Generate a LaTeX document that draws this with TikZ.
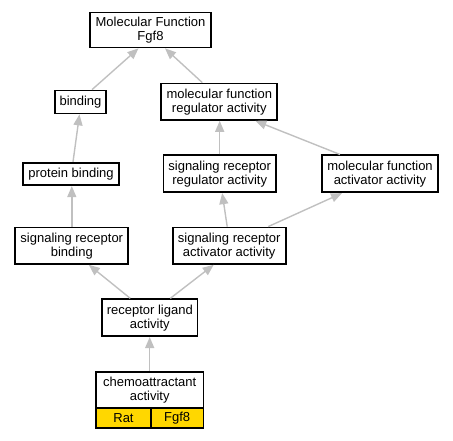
\documentclass[tikz,border=0pt]{standalone}
\usepackage{fontspec}
\setmainfont{Liberation Sans}
\usetikzlibrary{arrows.meta}
\definecolor{edgegray}{RGB}{192,192,192}
\definecolor{cellgold}{RGB}{255,215,0}
\begin{document}
\begin{tikzpicture}[x=1pt,y=-1pt,
  term/.style={draw=black, line width=1.7pt, fill=white, inner sep=0pt, align=center,
    font=\fontsize{13}{14}\selectfont},
  cell/.style={draw=black, line width=1.7pt, fill=cellgold, inner sep=0pt,
    font=\fontsize{13}{14}\selectfont, minimum height=20.5pt},
  isa/.style={draw=edgegray, line width=1.4pt, -{Triangle[length=11pt,width=9pt]}, edgegray}]
\useasboundingbox (0,0) rectangle (453,440);
\node[term, minimum width=120.5pt, minimum height=35pt] (mf) at (150.5,30) {Molecular Function\\Fgf8};
\node[term, minimum width=51pt, minimum height=23pt] (bind) at (80.5,102) {binding};
\node[term, minimum width=116pt, minimum height=36.5pt] (mfra) at (219.3,101.7) {molecular function\\regulator activity};
\node[term, minimum width=95.5pt, minimum height=22.5pt] (pb) at (71,174) {protein binding};
\node[term, minimum width=112.5pt, minimum height=37pt] (srra) at (219.7,173.8) {signaling receptor\\regulator activity};
\node[term, minimum width=115.5pt, minimum height=37pt] (mfaa) at (380,173.8) {molecular function\\activator activity};
\node[term, minimum width=113pt, minimum height=36.5pt] (srb) at (71.8,245.7) {signaling receptor\\binding};
\node[term, minimum width=113pt, minimum height=36.5pt] (sraa) at (229.2,245.7) {signaling receptor\\activator activity};
\node[term, minimum width=95.5pt, minimum height=37pt] (rla) at (149.8,317.7) {receptor ligand\\activity};
\node[term, minimum width=107.3pt, minimum height=36pt] (chemo) at (149.7,389.7) {chemoattractant\\activity};
\node[cell, minimum width=55pt] (rat) at (123.5,418) {Rat};
\node[cell, minimum width=52.3pt] (fgf) at (177.2,418) {Fgf8};
\draw[isa] ([xshift=11.5pt]bind.north) -- ([xshift=-12pt]mf.south);
\draw[isa] ([xshift=-17pt]mfra.north) -- ([xshift=14.5pt]mf.south);
\draw[isa] ([xshift=2pt]pb.north) -- ([xshift=-1pt]bind.south);
\draw[isa] (srra.north) -- (srra.north |- mfra.south);
\draw[isa] ([xshift=-40pt]mfaa.north) -- ([xshift=36pt]mfra.south);
\draw[isa] (srb.north) -- (srb.north |- pb.south);
\draw[isa] ([xshift=-2pt]sraa.north) -- ([xshift=2.5pt]srra.south);
\draw[isa] ([xshift=39pt]sraa.north) -- ([xshift=-38pt]mfaa.south);
\draw[isa] ([xshift=-19.5pt]rla.north) -- ([xshift=17pt]srb.south);
\draw[isa] ([xshift=20.5pt]rla.north) -- ([xshift=-15.5pt]sraa.south);
\draw[isa] (chemo.north) -- (chemo.north |- rla.south);
\end{tikzpicture}
\end{document}
